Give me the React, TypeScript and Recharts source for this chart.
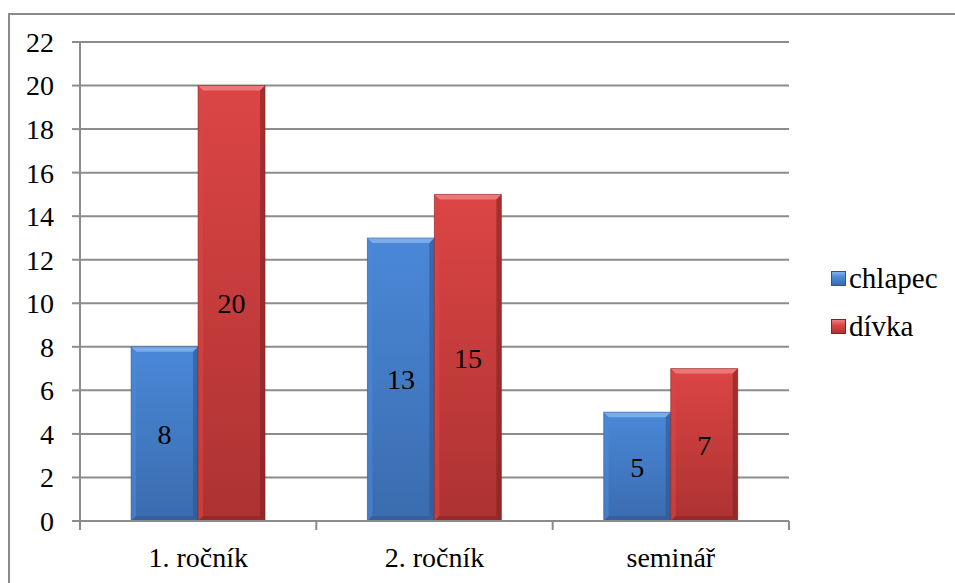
import { Bar, BarChart, CartesianGrid, LabelList, XAxis, YAxis } from "recharts";

const categories = ["1. ročník", "2. ročník", "seminář"];
const chlapec = [8, 13, 5];
const divka = [20, 15, 7];
const yTicks = [0, 2, 4, 6, 8, 10, 12, 14, 16, 18, 20, 22];

const data = categories.map((name, i) => ({ name, chlapec: chlapec[i], divka: divka[i] }));

const FONT = "Liberation Serif, Times New Roman, serif";
const FS = 28;
const GRID = "#8c8c8c";
const CHART_W = 955;
const CHART_H = 583;
const MARGIN = { top: 42, right: 166, bottom: 0, left: 0 };
const Y_AXIS_W = 80;
const X_AXIS_H = 62;
const BAND = (CHART_W - MARGIN.right - Y_AXIS_W) / categories.length;

const palette = {
  chlapec: { top: "#4a88d8", bottom: "#3a6cae", light: "#7fb0ee", dark: "#2c5590" },
  divka: { top: "#dc4545", bottom: "#ad3232", light: "#ef7d7d", dark: "#7e2222" },
};

function BevelBar(props: any) {
  const { x, y, width, height, dataKey } = props;
  if (!height || height <= 0) return null;
  const c = palette[dataKey as keyof typeof palette];
  const b = 5;
  return (
    <g>
      <rect x={x} y={y} width={width} height={height} fill={`url(#grad-${dataKey})`} />
      <polygon points={`${x},${y} ${x + width},${y} ${x + width - b},${y + b} ${x + b},${y + b}`} fill={c.light} opacity={0.9} />
      <polygon points={`${x},${y} ${x + b},${y + b} ${x + b},${y + height - b} ${x},${y + height}`} fill={c.top} opacity={0.6} />
      <polygon points={`${x + width},${y} ${x + width - b},${y + b} ${x + width - b},${y + height - b} ${x + width},${y + height}`} fill={c.dark} opacity={0.6} />
      <polygon points={`${x},${y + height} ${x + b},${y + height - b} ${x + width - b},${y + height - b} ${x + width},${y + height}`} fill={c.dark} opacity={0.5} />
      <rect x={x} y={y} width={width} height={height} fill="none" stroke={c.dark} strokeOpacity={0.5} strokeWidth={1} />
    </g>
  );
}

function CategoryTick(props: any) {
  const { x, y, payload, index } = props;
  const axisY = y - 8;
  return (
    <g>
      {index === 0 && <line x1={x - BAND / 2} y1={axisY} x2={x - BAND / 2} y2={axisY + 9} stroke={GRID} strokeWidth={2} />}
      <line x1={x + BAND / 2} y1={axisY} x2={x + BAND / 2} y2={axisY + 9} stroke={GRID} strokeWidth={2} />
      <text x={x} y={y + 38} textAnchor="middle" style={{ fontFamily: FONT, fontSize: FS }} fill="#000">
        {payload.value}
      </text>
    </g>
  );
}

function LegendBox() {
  const items = [
    { key: "chlapec", label: "chlapec" },
    { key: "divka", label: "dívka" },
  ];
  return (
    <div style={{ position: "absolute", left: 831, top: 254, fontFamily: FONT, fontSize: 29, color: "#000" }}>
      {items.map((it) => {
        const c = palette[it.key as keyof typeof palette];
        return (
          <div key={it.key} style={{ display: "flex", alignItems: "center", height: 48 }}>
            <span
              style={{
                display: "inline-block",
                width: 15,
                height: 15,
                marginRight: 3,
                background: `linear-gradient(${c.light}, ${c.top} 40%, ${c.bottom})`,
                border: `1px solid ${c.dark}`,
                boxSizing: "border-box",
              }}
            />
            <span>{it.label}</span>
          </div>
        );
      })}
    </div>
  );
}

export default function App() {
  return (
    <div style={{ position: "absolute", left: 0, top: 0, width: CHART_W, height: CHART_H, background: "#fff", overflow: "hidden", fontFamily: FONT }}>
      <div
        style={{
          position: "absolute",
          left: 8,
          top: 13,
          width: CHART_W,
          height: CHART_H,
          borderTop: "2px solid #8a8a8a",
          borderLeft: "2px solid #8a8a8a",
          boxSizing: "border-box",
        }}
      />
      <div style={{ position: "absolute", left: 0, top: 0 }}>
        <BarChart width={CHART_W} height={CHART_H} data={data} margin={MARGIN} barGap={0} barCategoryGap="21.6%" style={{ fontFamily: FONT }}>
          <defs>
            {(Object.keys(palette) as (keyof typeof palette)[]).map((k) => (
              <linearGradient key={k} id={`grad-${k}`} x1="0" y1="0" x2="0" y2="1">
                <stop offset="0%" stopColor={palette[k].top} />
                <stop offset="100%" stopColor={palette[k].bottom} />
              </linearGradient>
            ))}
          </defs>
          <CartesianGrid vertical={false} stroke={GRID} strokeWidth={2} />
          <XAxis
            dataKey="name"
            height={X_AXIS_H}
            axisLine={{ stroke: GRID, strokeWidth: 2 }}
            tickLine={false}
            tick={<CategoryTick />}
            interval={0}
          />
          <YAxis
            domain={[0, 22]}
            ticks={yTicks}
            width={Y_AXIS_W}
            axisLine={{ stroke: GRID, strokeWidth: 2 }}
            tickLine={{ stroke: GRID, strokeWidth: 2 }}
            tickSize={8}
            tickMargin={18}
            tick={{ fontFamily: FONT, fontSize: FS, fill: "#000" }}
          />
          <Bar dataKey="chlapec" name="chlapec" shape={<BevelBar />} isAnimationActive={false}>
            <LabelList dataKey="chlapec" position="center" fontFamily={FONT} fontSize={FS} fill="#000" />
          </Bar>
          <Bar dataKey="divka" name="dívka" shape={<BevelBar />} isAnimationActive={false}>
            <LabelList dataKey="divka" position="center" fontFamily={FONT} fontSize={FS} fill="#000" />
          </Bar>
        </BarChart>
      </div>
      <LegendBox />
    </div>
  );
}
